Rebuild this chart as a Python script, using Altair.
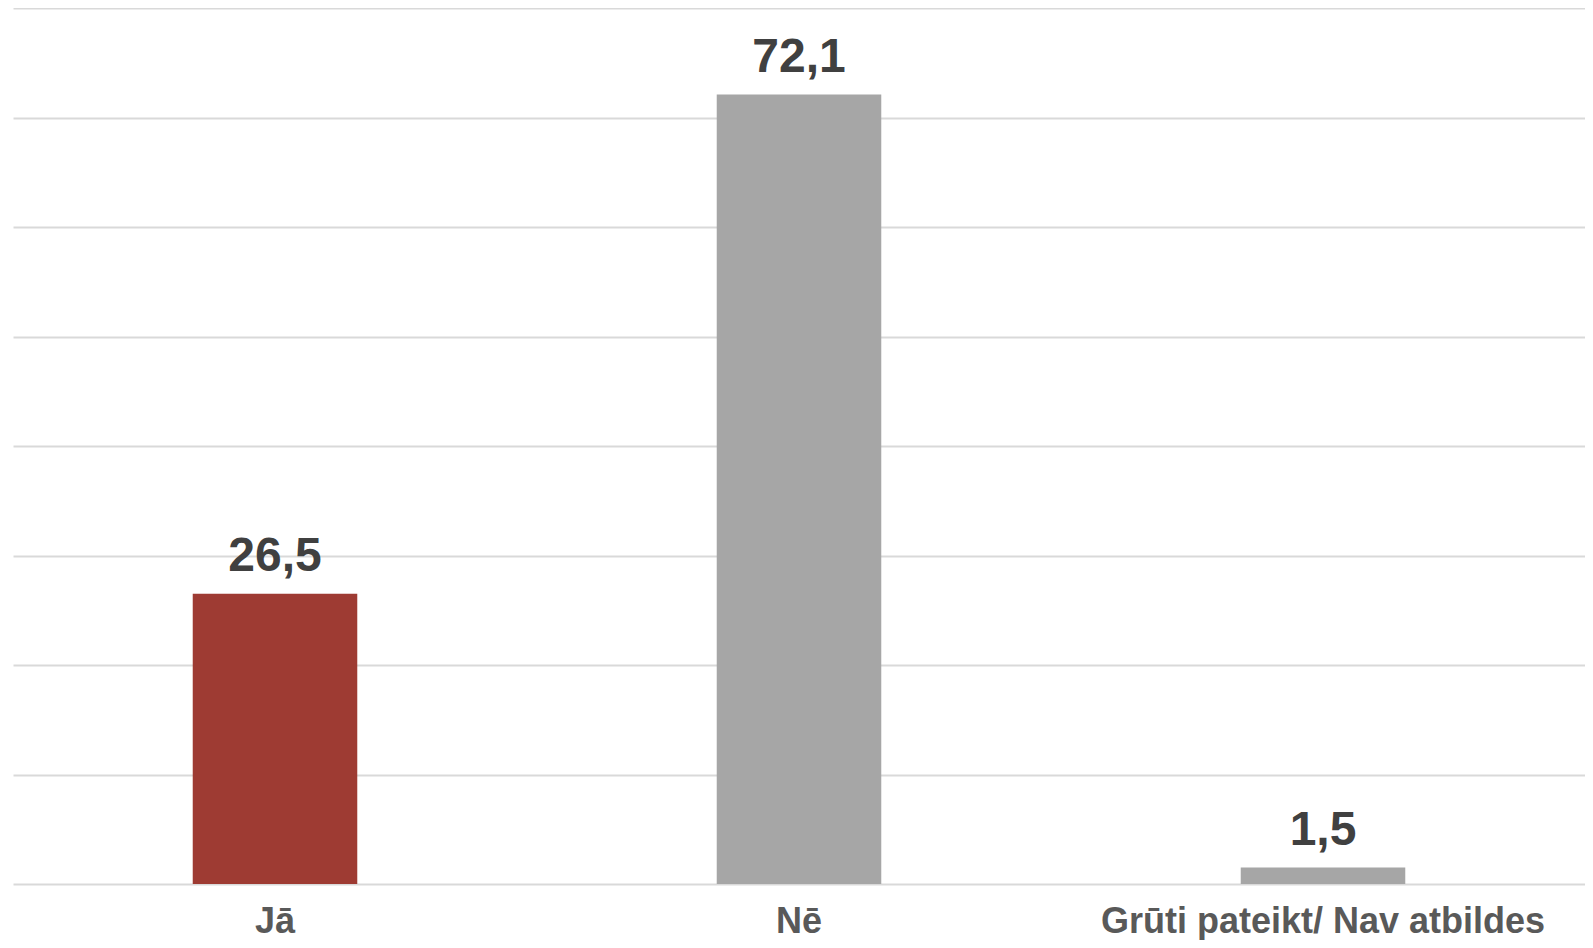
import altair as alt
import pandas as pd

categories = ["Jā", "Nē", "Grūti pateikt/ Nav atbildes"]
values = [26.5, 72.1, 1.5]
colors = ["#9e3b33", "#a6a6a6", "#a6a6a6"]
y_ticks = [0, 10, 20, 30, 40, 50, 60, 70, 80]

df = pd.DataFrame({
    "cat": categories,
    "val": values,
    "color": colors,
    "label": [f"{v:.1f}".replace(".", ",") for v in values],
})

FONT = "Liberation Sans"

x = alt.X("cat:N", sort=categories, title=None,
          scale=alt.Scale(paddingInner=0.686, paddingOuter=0.343),
          axis=alt.Axis(labelAngle=0, labelFontSize=36, labelFontWeight="bold",
                        labelColor="#595959", labelFont=FONT, domain=False,
                        ticks=False, tickSize=0, labelPadding=48, grid=False,
                        labelBaseline="alphabetic", labelLimit=1000))
y = alt.Y("val:Q", title=None,
          scale=alt.Scale(domain=[0, 80], nice=False, zero=True),
          axis=alt.Axis(values=y_ticks, labels=False, ticks=False, domain=False,
                        grid=True, gridColor="#d9d9d9", gridWidth=2))

bars = alt.Chart(df).mark_bar().encode(
    x=x, y=y, color=alt.Color("color:N", scale=None)
)

text = alt.Chart(df).mark_text(
    fontSize=48, fontWeight="bold", color="#404040", font=FONT,
    baseline="alphabetic", dy=-23
).encode(x=alt.X("cat:N", sort=categories),
         y=alt.Y("val:Q"), text="label:N")

chart = alt.layer(bars, text).properties(
    width=1572, height=876,
    background="white",
    autosize=alt.AutoSizeParams(type="none"),
    padding={"left": 5, "top": 0, "right": 0, "bottom": 56},
).configure_view(strokeWidth=0, stroke=None).configure_axis(
    domain=False, ticks=False
)

chart.save("out.html", embed_options={"renderer": "svg", "actions": False})
